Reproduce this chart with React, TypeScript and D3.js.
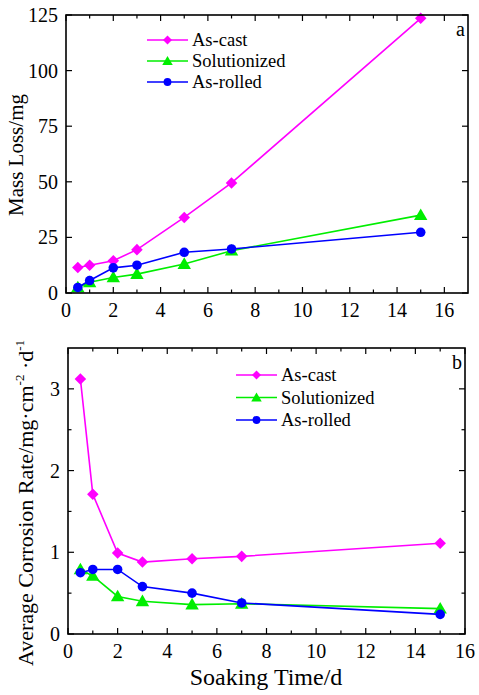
import React from "react";
import * as d3 from "d3";

// soaking time, days
const days = [0.5, 1, 2, 3, 5, 7, 15];

// mass loss, mg
const massAsCast = [11.5, 12.5, 14.5, 19.5, 34, 49.5, 123.5];
const massSolutionized = [2.5, 4.8, 7, 8.5, 13, 19, 35];
const massAsRolled = [2.5, 5.6, 11.3, 12.5, 18.3, 19.8, 27.3];

// average corrosion rate, mg·cm-2·d-1
const rateAsCast = [3.12, 1.71, 0.99, 0.88, 0.92, 0.95, 1.11];
const rateSolutionized = [0.79, 0.71, 0.46, 0.4, 0.36, 0.37, 0.31];
const rateAsRolled = [0.75, 0.79, 0.79, 0.58, 0.5, 0.38, 0.24];

const seriesNames = ["As-cast", "Solutionized", "As-rolled"];
const colors = ["#ff00ff", "#00ee00", "#0000ff"];
const symbols = [d3.symbolSquare, d3.symbolTriangle, d3.symbolCircle];

const topXTicks = [0, 2, 4, 6, 8, 10, 12, 14, 16];
const topYTicks = [0, 25, 50, 75, 100, 125];
const botXTicks = [0, 2, 4, 6, 8, 10, 12, 14, 16];
const botYTicks = [0, 1, 2, 3];

const font = "Liberation Serif, Times New Roman, serif";

type PanelProps = {
  left: number;
  right: number;
  top: number;
  bottom: number;
  xMax: number;
  yMax: number;
  xTicks: number[];
  yTicks: number[];
  yMinorStep: number | null;
  series: number[][];
  legend: { x: number; y: number; gap: number };
  tag: string;
  tagPos: [number, number];
};

// diamond = rotated square
function Marker({ i, x, y, size }: { i: number; x: number; y: number; size: number }) {
  const path = d3.symbol().type(symbols[i]).size(i === 0 ? size * 0.85 : size)()!;
  const dy = i === 1 ? 1 : 0;
  const rot = i === 0 ? " rotate(45)" : "";
  return <path d={path} transform={`translate(${x},${y + dy})${rot}`} fill={colors[i]} />;
}

function Panel(p: PanelProps) {
  const x = d3.scaleLinear().domain([0, p.xMax]).range([p.left, p.right]);
  const y = d3.scaleLinear().domain([0, p.yMax]).range([p.bottom, p.top]);
  const line = d3
    .line<number>()
    .x((_, i) => x(days[i]))
    .y((d) => y(d));

  const xMinor = d3.range(1, p.xMax, 2);
  const yMinor = p.yMinorStep ? d3.range(p.yMinorStep, p.yMax, p.yMinorStep * 2) : [];
  const major = 6;
  const minor = 3.5;

  return (
    <g>
      {/* ticks, inward on all four sides */}
      <g stroke="#000" strokeWidth={1.2}>
        {p.xTicks.map((t) => (
          <g key={"xt" + t}>
            <line x1={x(t)} x2={x(t)} y1={p.bottom} y2={p.bottom - major} />
            <line x1={x(t)} x2={x(t)} y1={p.top} y2={p.top + major} />
          </g>
        ))}
        {xMinor.map((t) => (
          <g key={"xm" + t}>
            <line x1={x(t)} x2={x(t)} y1={p.bottom} y2={p.bottom - minor} />
            <line x1={x(t)} x2={x(t)} y1={p.top} y2={p.top + minor} />
          </g>
        ))}
        {p.yTicks.map((t) => (
          <g key={"yt" + t}>
            <line x1={p.left} x2={p.left + major} y1={y(t)} y2={y(t)} />
            <line x1={p.right} x2={p.right - major} y1={y(t)} y2={y(t)} />
          </g>
        ))}
        {yMinor.map((t) => (
          <g key={"ym" + t}>
            <line x1={p.left} x2={p.left + minor} y1={y(t)} y2={y(t)} />
            <line x1={p.right} x2={p.right - minor} y1={y(t)} y2={y(t)} />
          </g>
        ))}
      </g>

      <g fontSize={20} fill="#000">
        {p.xTicks.map((t) => (
          <text key={"xl" + t} x={x(t)} y={p.bottom + 24} textAnchor="middle">
            {t}
          </text>
        ))}
        {p.yTicks.map((t) => (
          <text key={"yl" + t} x={p.left - 8} y={y(t)} dy="0.35em" textAnchor="end">
            {t}
          </text>
        ))}
        <text x={p.tagPos[0]} y={p.tagPos[1]} textAnchor="end">
          {p.tag}
        </text>
      </g>

      {p.series.map((s, i) => (
        <g key={"s" + i}>
          <path d={line(s)!} fill="none" stroke={colors[i]} strokeWidth={1.6} />
          {s.map((v, j) => (
            <Marker key={j} i={i} x={x(days[j])} y={y(v)} size={i === 2 ? 72 : 78} />
          ))}
        </g>
      ))}

      {/* legend */}
      {seriesNames.map((name, i) => {
        const ly = p.legend.y + i * p.legend.gap;
        return (
          <g key={"lg" + i}>
            <line x1={p.legend.x} x2={p.legend.x + 41} y1={ly} y2={ly} stroke={colors[i]} strokeWidth={1.6} />
            <Marker i={i} x={p.legend.x + 20.5} y={ly} size={48} />
            <text x={p.legend.x + 45} y={ly} dy="0.33em" fontSize={18.5}>
              {name}
            </text>
          </g>
        );
      })}

      <rect
        x={p.left}
        y={p.top}
        width={p.right - p.left}
        height={p.bottom - p.top}
        fill="none"
        stroke="#000"
        strokeWidth={1.6}
      />
    </g>
  );
}

export default function App() {
  return (
    <svg
      width={479}
      height={695}
      style={{ position: "absolute", left: 0, top: 0, background: "#fff", fontFamily: font }}
    >
      <Panel
        left={66}
        right={468}
        top={15}
        bottom={293}
        xMax={17}
        yMax={125}
        xTicks={topXTicks}
        yTicks={topYTicks}
        yMinorStep={null}
        series={[massAsCast, massSolutionized, massAsRolled]}
        legend={{ x: 147, y: 40, gap: 21 }}
        tag="a"
        tagPos={[465, 36]}
      />
      <Panel
        left={68}
        right={465}
        top={348}
        bottom={634}
        xMax={16}
        yMax={3.5}
        xTicks={botXTicks}
        yTicks={botYTicks}
        yMinorStep={0.5}
        series={[rateAsCast, rateSolutionized, rateAsRolled]}
        legend={{ x: 236, y: 375, gap: 22.5 }}
        tag="b"
        tagPos={[462, 369]}
      />

      <text transform="translate(23,155) rotate(-90)" textAnchor="middle" fontSize={21}>
        Mass Loss/mg
      </text>
      <text transform="translate(33,503) rotate(-90)" textAnchor="middle" fontSize={22}>
        Average Corrosion Rate/mg·cm
        <tspan fontSize={13} dy={-9}>-2</tspan>
        <tspan dy={9}> ·d</tspan>
        <tspan fontSize={13} dy={-9}>-1</tspan>
      </text>
      <text x={266} y={685} textAnchor="middle" fontSize={24}>
        Soaking Time/d
      </text>
    </svg>
  );
}
